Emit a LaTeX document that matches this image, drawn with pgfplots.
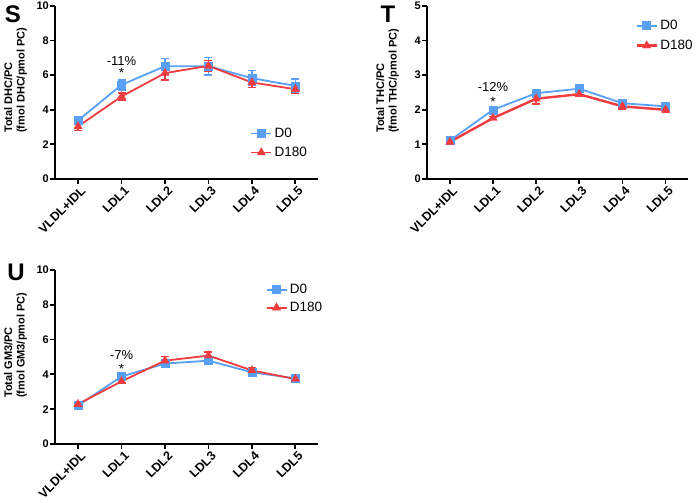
\documentclass[border=0pt]{standalone}
\usepackage{fontspec}
\setmainfont{Liberation Sans}
\usepackage{pgfplots}
\pgfplotsset{compat=1.18}

\definecolor{cblue}{RGB}{88,160,245}
\definecolor{cred}{RGB}{240,60,62}

\pgfplotsset{
 panel/.style={
  scale only axis, width=263pt, height=173pt,
  anchor=south west,
  axis x line*=bottom, axis y line*=left,
  axis line style={line width=2.3pt},
  xmin=-0.53, xmax=5.52, ymin=0,
  xtick={0,...,5}, xticklabels={VLDL+IDL,LDL1,LDL2,LDL3,LDL4,LDL5},
  x tick label style={rotate=45, anchor=north east, font=\bfseries\fontsize{12.5}{13}\selectfont, inner sep=1pt, yshift=-1.5pt, xshift=1.5pt},
  y tick label style={font=\bfseries\fontsize{11}{12}\selectfont, inner sep=1pt},
  tick align=outside, major tick length=5pt, tick style={line width=1.8pt, black},
  /pgf/number format/assume math mode=true,
  clip=false,
  legend style={draw=none, fill=none, font=\fontsize{13.5}{14}\selectfont, row sep=3pt, inner sep=0pt,
     nodes={inner ysep=1.5pt, inner xsep=2.5pt, text height=10pt, text depth=3pt}},
  legend cell align=left,
  legend image code/.code={\draw[mark repeat=2,mark phase=2,##1] plot coordinates {(0pt,0pt) (10pt,0pt) (20pt,0pt)};},
 },
 d0/.style={color=cblue, line width=1.8pt, mark=square*, mark size=4pt, mark options={solid, line width=0.4pt},
   error bars/y dir=both, error bars/y explicit, error bars/error bar style={line width=1.4pt, cblue}, error bars/error mark options={rotate=90, mark size=4pt, line width=1.4pt, cblue}},
 d180/.style={color=cred, line width=1.8pt, mark=triangle*, mark size=4.8pt, mark options={solid, line width=0.4pt},
   error bars/y dir=both, error bars/y explicit, error bars/error bar style={line width=1.4pt, cred}, error bars/error mark options={rotate=90, mark size=4pt, line width=1.4pt, cred}},
}

\begin{document}
\begin{tikzpicture}
\useasboundingbox (0pt,0pt) rectangle (697pt,503pt);

% ---------------- Panel S
\begin{axis}[panel, at={(55pt,324pt)}, ymax=10, ytick={0,2,4,6,8,10},
  legend style={at={(0.742,0.31)}, anchor=north west}]
\addplot+[d0] coordinates {
 (0,3.38) +- (0,0.12)
 (1,5.44) +- (0,0.29)
 (2,6.52) +- (0,0.44)
 (3,6.52) +- (0,0.50)
 (4,5.83) +- (0,0.43)
 (5,5.38) +- (0,0.40)
};
\addlegendentry{D0}
\addplot+[d180] coordinates {
 (0,3.04) +- (0,0.22)
 (1,4.77) +- (0,0.20)
 (2,6.12) +- (0,0.40)
 (3,6.54) +- (0,0.30)
 (4,5.58) +- (0,0.30)
 (5,5.19) +- (0,0.25)
};
\addlegendentry{D180}
\node[font=\fontsize{13}{14}\selectfont] at (axis cs:1,6.84) {-11\%};
\node[font=\fontsize{13.5}{14}\selectfont] at (axis cs:1,6.12) {*};
\end{axis}

% ---------------- Panel T
\begin{axis}[panel, at={(427pt,324pt)}, width=261pt, ymax=5, ytick={0,1,2,3,4,5},
  legend style={at={(0.798,0.934)}, anchor=north west, row sep=4pt}]
\addplot+[d0] coordinates {
 (0,1.11) +- (0,0.04)
 (1,2.00) +- (0,0.04)
 (2,2.48) +- (0,0.10)
 (3,2.61) +- (0,0.08)
 (4,2.19) +- (0,0.06)
 (5,2.10) +- (0,0.05)
};
\addlegendentry{D0}
\addplot+[d180, line width=2.4pt] coordinates {
 (0,1.07) +- (0,0.04)
 (1,1.76) +- (0,0.04)
 (2,2.32) +- (0,0.15)
 (3,2.45) +- (0,0.07)
 (4,2.10) +- (0,0.08)
 (5,2.00) +- (0,0.08)
};
\addlegendentry{D180}
\node[font=\fontsize{13}{14}\selectfont] at (axis cs:1,2.65) {-12\%};
\node[font=\fontsize{13.5}{14}\selectfont] at (axis cs:1,2.24) {*};
\end{axis}

% ---------------- Panel U
\begin{axis}[panel, at={(55pt,59pt)}, height=174pt, ymax=10, ytick={0,2,4,6,8,10},
  legend style={at={(0.80,0.934)}, anchor=north west, row sep=2pt}]
\addplot+[d0] coordinates {
 (0,2.21) +- (0,0.10)
 (1,3.88) +- (0,0.12)
 (2,4.62) +- (0,0.15)
 (3,4.79) +- (0,0.12)
 (4,4.12) +- (0,0.12)
 (5,3.77) +- (0,0.10)
};
\addlegendentry{D0}
\addplot+[d180] coordinates {
 (0,2.29) +- (0,0.10)
 (1,3.60) +- (0,0.10)
 (2,4.79) +- (0,0.25)
 (3,5.08) +- (0,0.20)
 (4,4.23) +- (0,0.15)
 (5,3.73) +- (0,0.10)
};
\addlegendentry{D180}
\node[font=\fontsize{13}{14}\selectfont] at (axis cs:1,5.11) {-7\%};
\node[font=\fontsize{13.5}{14}\selectfont] at (axis cs:1,4.32) {*};
\end{axis}

% ---------------- panel letters and y labels
\node[font=\bfseries\fontsize{24}{24}\selectfont, inner sep=0pt] at (13pt,489pt) {S};
\node[font=\bfseries\fontsize{24}{24}\selectfont, inner sep=0pt] at (388pt,489pt) {T};
\node[font=\bfseries\fontsize{24}{24}\selectfont, inner sep=0pt] at (16pt,231pt) {U};

\node[rotate=90, anchor=north west, align=left, inner sep=0pt, font=\bfseries\fontsize{11}{12.5}\selectfont] at (4pt,370pt) {Total DHC/PC\\(fmol DHC/pmol PC)};
\node[rotate=90, anchor=north west, align=left, inner sep=0pt, font=\bfseries\fontsize{11}{12.5}\selectfont] at (376pt,370pt) {Total THC/PC\\(fmol THC/pmol PC)};
\node[rotate=90, anchor=north west, align=left, inner sep=0pt, font=\bfseries\fontsize{11}{12.5}\selectfont] at (4pt,105pt) {Total GM3/PC\\(fmol GM3/pmol PC)};
\end{tikzpicture}
\end{document}
